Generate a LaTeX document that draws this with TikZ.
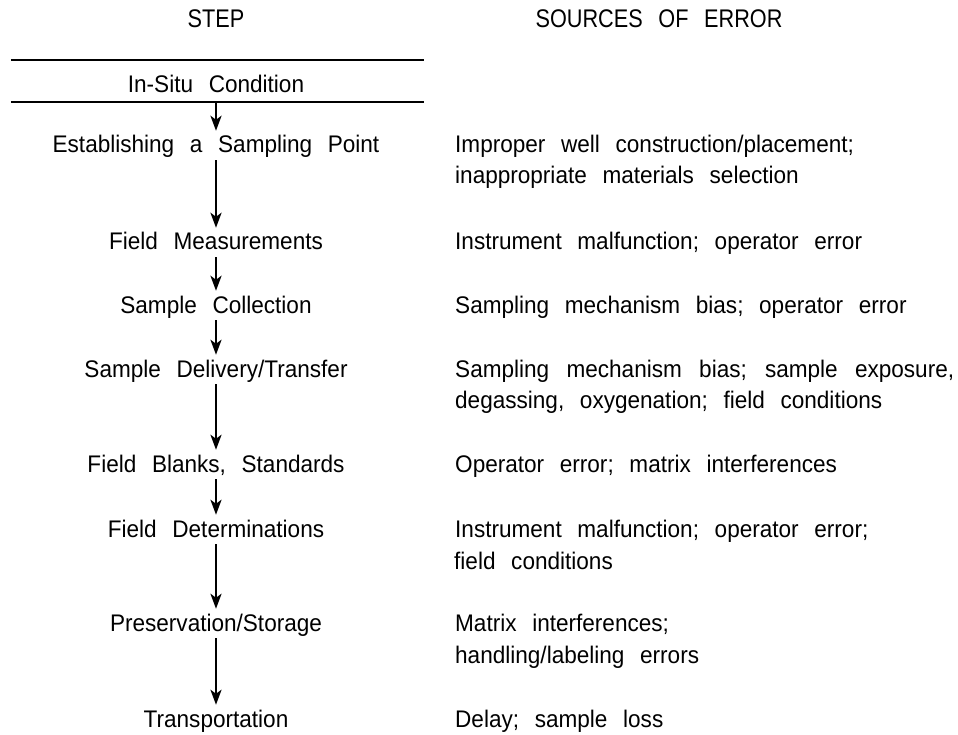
\documentclass[tikz,border=0pt]{standalone}
\usepackage{fontspec}
\setmainfont{Liberation Sans}[FakeStretch=0.94, WordSpace=2.5]
\newfontfamily\headfont{Liberation Sans}[FakeStretch=0.85, WordSpace=2.6]
\usetikzlibrary{arrows.meta}

\tikzset{
  steptext/.style={anchor=base, inner sep=0pt, text height=17pt, text depth=5pt,
                   font=\fontsize{24}{31}\selectfont},
  errtext/.style={anchor=base west, inner sep=0pt,
                  font=\fontsize{24}{31}\selectfont},
  headtext/.style={anchor=base, inner sep=0pt, font=\headfont\fontsize{25.5}{30}\selectfont},
  band/.style={minimum width=413pt, minimum height=42pt, inner sep=0pt},
  rule/.style={line width=1.9pt},
  flow/.style={line width=2.6pt, -{Stealth[length=15pt,width=11pt,inset=4pt]},
               shorten <=2pt, shorten >=5pt},
}

\begin{document}
\begin{tikzpicture}[x=1pt, y=-1pt]
\useasboundingbox (0,0) rectangle (958,735);

% column headings
\node[headtext] (hstep) at (216,28) {STEP};
\node[headtext] (hsrc)  at (659,28) {SOURCES OF ERROR};

% starting condition between two rules
\node[band] (band) at (217.5,81) {};
\draw[rule] (band.north west) -- (band.north east);
\draw[rule] (band.south west) -- (band.south east);
\node[steptext] (insitu) at (216,93) {In-Situ Condition};

% steps
\node[steptext] (s1) at (216,153) {Establishing a Sampling Point};
\node[steptext] (s2) at (216,250) {Field Measurements};
\node[steptext] (s3) at (216,313) {Sample Collection};
\node[steptext] (s4) at (216,377) {Sample Delivery/Transfer};
\node[steptext] (s5) at (216,472) {Field Blanks, Standards};
\node[steptext] (s6) at (216,537) {Field Determinations};
\node[steptext] (s7) at (216,631) {Preservation/Storage};
\node[steptext] (s8) at (216,727) {Transportation};

% sources of error
\node[errtext] (e1)  at (455,153) {Improper well construction/placement;};
\node[errtext] (e1b) at (455,184) {inappropriate materials selection};
\node[errtext] (e2)  at (455,250) {Instrument malfunction; operator error};
\node[errtext] (e3)  at (455,313) {Sampling mechanism bias; operator error};
\node[errtext] (e4)  at (455,377) {\makebox[499pt][s]{Sampling mechanism bias; sample exposure,}};
\node[errtext] (e4b) at (455,408) {degassing, oxygenation; field conditions};
\node[errtext] (e5)  at (455,472) {Operator error; matrix interferences};
\node[errtext] (e6)  at (455,537) {Instrument malfunction; operator error;};
\node[errtext] (e6b) at (454,569) {field conditions};
\node[errtext] (e7)  at (455,631) {Matrix interferences;};
\node[errtext] (e7b) at (455,663) {handling/labeling errors};
\node[errtext] (e8)  at (455,727) {Delay; sample loss};

% flow arrows
\draw[flow, shorten <=0pt] (band.south -| s1.north) -- (s1.north);
\draw[flow] (s1.south) -- (s2.north);
\draw[flow] (s2.south) -- (s3.north);
\draw[flow] (s3.south) -- (s4.north);
\draw[flow] (s4.south) -- (s5.north);
\draw[flow] (s5.south) -- (s6.north);
\draw[flow] (s6.south) -- (s7.north);
\draw[flow] (s7.south) -- (s8.north);
\end{tikzpicture}
\end{document}
